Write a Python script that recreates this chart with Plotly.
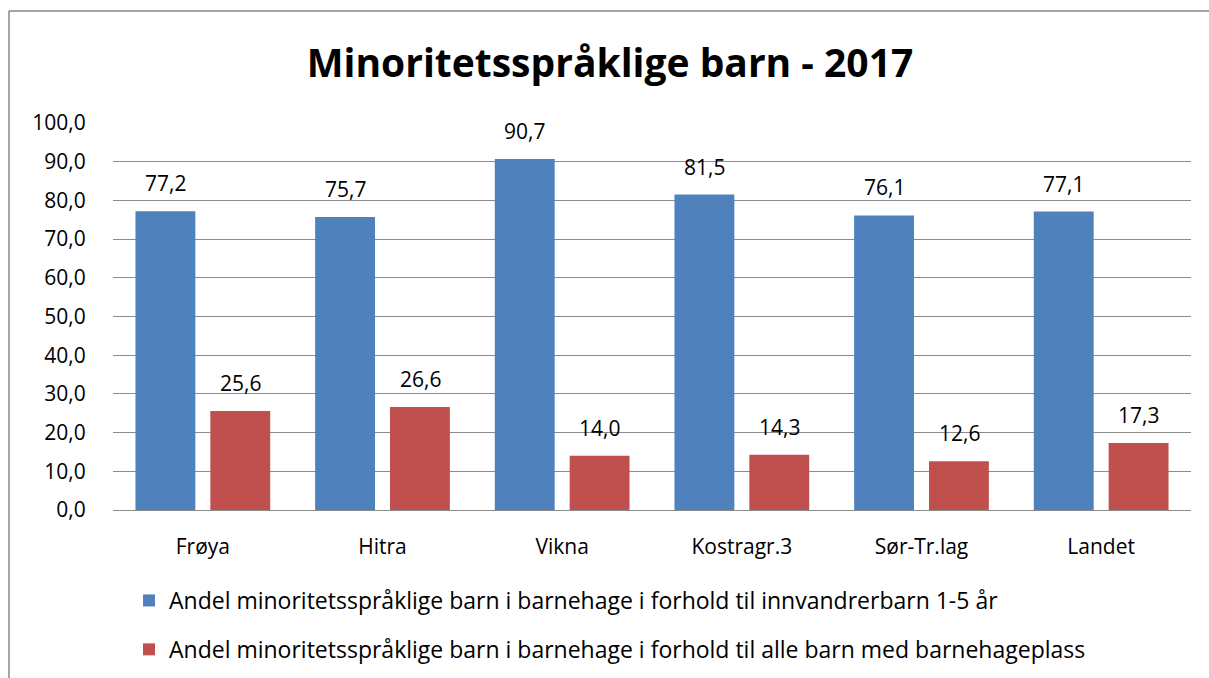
import plotly.graph_objects as go

categories = ["Frøya", "Hitra", "Vikna", "Kostragr.3", "Sør-Tr.lag", "Landet"]
series1_name = "Andel minoritetsspråklige barn i barnehage i forhold til innvandrerbarn 1-5 år"
series2_name = "Andel minoritetsspråklige barn i barnehage i forhold til alle barn med barnehageplass"
series1 = [77.2, 75.7, 90.7, 81.5, 76.1, 77.1]
series2 = [25.6, 26.6, 14.0, 14.3, 12.6, 17.3]
y_ticks = [0, 10, 20, 30, 40, 50, 60, 70, 80, 90, 100]

W, H = 1209, 678
L, R, T, B = 113, 1191, 123, 510
pw, ph = R - L, B - T

def px(x):
    return (x - L) / pw

def py(y):
    return (B - y) / ph

FONT = "Open Sans"
FS = 21
BLUE, RED = "#4F81BD", "#C0504D"

fig = go.Figure()
fig.add_trace(go.Bar(
    x=categories, y=series1, name=series1_name, legendgroup="a",
    marker=dict(color=BLUE, line=dict(width=0)),
))
fig.add_trace(go.Bar(
    x=categories, y=series2, name=series2_name, legendgroup="b",
    marker=dict(color=RED, line=dict(width=0)),
))

# data labels
slot_shift = 37.5
for vals, sh in ((series1, -slot_shift), (series2, slot_shift)):
    for c, v in zip(categories, vals):
        fig.add_annotation(x=c, y=v, xref="x", yref="y", text=f"{v:.1f}".replace(".", ","),
                           showarrow=False, xshift=sh, yshift=12, yanchor="bottom",
                           font=dict(family=FONT, size=FS, color="black"))

fig.update_layout(
    width=W, height=H,
    margin=dict(l=L, r=W - R, t=T, b=H - B, pad=0, autoexpand=False),
    paper_bgcolor="white", plot_bgcolor="white",
    separators=",.",
    font=dict(family=FONT, size=FS, color="black"),
    barmode="group", bargap=0.1667, bargroupgap=0.2,
    showlegend=True,
    title=dict(text="<b>Minoritetsspråklige barn - 2017</b>",
               font=dict(family=FONT, size=39, color="black"),
               xref="container", x=610 / W, xanchor="center",
               yref="container", y=1 - 63 / H, yanchor="middle"),
    legend=dict(orientation="v", xref="container", x=129 / W, xanchor="left",
                yref="container", y=1 - 579 / H, yanchor="top",
                font=dict(family=FONT, size=23, color="black"),
                tracegroupgap=16, traceorder="grouped", bgcolor="rgba(0,0,0,0)"),
    xaxis=dict(showgrid=False, showline=True, linecolor="#8C8C8C", linewidth=1,
               ticks="outside", ticklen=18, tickcolor="rgba(0,0,0,0)",
               tickfont=dict(family=FONT, size=FS, color="black")),
    yaxis=dict(range=[0, 100], tickvals=y_ticks, tickformat=".1f",
               showgrid=True, gridcolor="#8C8C8C", gridwidth=1,
               zeroline=False, showline=False,
               ticks="outside", ticklen=22, tickcolor="rgba(0,0,0,0)",
               tickfont=dict(family=FONT, size=FS, color="black")),
)

# chart border (top and left edges visible)
fig.add_shape(type="line", xref="paper", yref="paper",
              x0=px(9), y0=py(11), x1=px(1220), y1=py(11),
              line=dict(color="#878787", width=1.5))
fig.add_shape(type="line", xref="paper", yref="paper",
              x0=px(9), y0=py(11), x1=px(9), y1=py(700),
              line=dict(color="#878787", width=1.5))

fig.write_html("out.html", config={"displayModeBar": False},
               post_script="document.body.style.margin='0';document.body.style.overflow='hidden';")
